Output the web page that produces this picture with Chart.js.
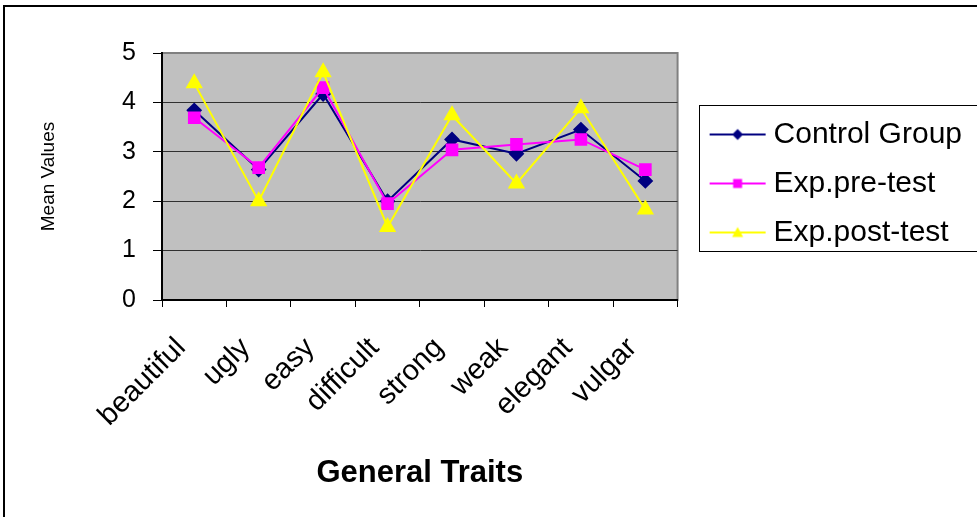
<!DOCTYPE html>
<html>
<head>
<meta charset="utf-8">
<script src="https://cdn.jsdelivr.net/npm/chart.js@4"></script>
<style>
  html, body { margin: 0; padding: 0; background: #fff; }
  #wrap { width: 977px; height: 517px; }
</style>
</head>
<body>
<div id="wrap"><canvas id="myChart" width="977" height="517"></canvas></div>
<script>
// data
const categories = ['beautiful', 'ugly', 'easy', 'difficult', 'strong', 'weak', 'elegant', 'vulgar'];
const controlGroup = [3.84, 2.64, 4.17, 2.00, 3.25, 2.96, 3.45, 2.41];
const expPreTest = [3.69, 2.68, 4.30, 1.95, 3.04, 3.15, 3.25, 2.64];
const expPostTest = [4.39, 2.00, 4.61, 1.48, 3.74, 2.36, 3.88, 1.83];
const seriesNames = ['Control Group', 'Exp.pre-test', 'Exp.post-test'];

const FONT = 'Arial, "Liberation Sans", sans-serif';

// little line + marker pictures for the legend
const makeIcon = (color, marker) => {
  const c = document.createElement('canvas');
  c.width = 80;
  c.height = 20;
  const ctx = c.getContext('2d');
  ctx.strokeStyle = color;
  ctx.fillStyle = color;
  ctx.lineWidth = 2;
  ctx.beginPath();
  ctx.moveTo(22, 10);
  ctx.lineTo(78, 10);
  ctx.stroke();
  ctx.beginPath();
  if (marker === 'diamond') {
    ctx.moveTo(50, 4.5); ctx.lineTo(55.5, 10); ctx.lineTo(50, 15.5); ctx.lineTo(44.5, 10);
  } else if (marker === 'square') {
    ctx.rect(45.5, 5.5, 9, 9);
  } else {
    ctx.moveTo(50, 4.5); ctx.lineTo(55.5, 14.5); ctx.lineTo(44.5, 14.5);
  }
  ctx.closePath();
  ctx.fill();
  return c;
};

const icons = [
  makeIcon('#000080', 'diamond'),
  makeIcon('#FF00FF', 'square'),
  makeIcon('#FFFF00', 'triangle')
];

const frame = {
  id: 'frame',
  beforeDraw(chart) {
    const { ctx, chartArea } = chart;
    ctx.save();
    ctx.fillStyle = '#C0C0C0';
    ctx.fillRect(chartArea.left, chartArea.top, chartArea.right - chartArea.left, chartArea.bottom - chartArea.top);
    ctx.strokeStyle = '#808080';
    ctx.lineWidth = 2;
    ctx.strokeRect(chartArea.left, chartArea.top, chartArea.right - chartArea.left, chartArea.bottom - chartArea.top);
    ctx.restore();
  },
  afterDraw(chart) {
    const { ctx, legend } = chart;
    ctx.save();
    // outer chart border
    ctx.strokeStyle = '#000';
    ctx.lineWidth = 2;
    ctx.strokeRect(4, 6, 1100, 700);
    // legend box
    if (legend && legend.legendHitBoxes && legend.legendHitBoxes.length) {
      const boxes = legend.legendHitBoxes;
      const first = boxes[0];
      const last = boxes[boxes.length - 1];
      const top = first.top + first.height / 2 - 30;
      const bottom = last.top + last.height / 2 + 18;
      ctx.strokeStyle = '#000';
      ctx.lineWidth = 1;
      ctx.strokeRect(Math.round(legend.left) + 21.5, Math.round(top) + 0.5, 400, Math.round(bottom - top));
    }
    ctx.restore();
  }
};

const chart = new Chart(document.getElementById('myChart'), {
  type: 'line',
  data: {
    labels: categories,
    datasets: [
      {
        label: seriesNames[0],
        data: controlGroup,
        borderColor: '#000080',
        backgroundColor: '#000080',
        borderWidth: 2,
        pointStyle: 'rectRot',
        pointRadius: 6.5,
        tension: 0,
        order: 2
      },
      {
        label: seriesNames[1],
        data: expPreTest,
        borderColor: '#FF00FF',
        backgroundColor: '#FF00FF',
        borderWidth: 2,
        pointStyle: 'rect',
        pointRadius: 7.5,
        tension: 0,
        order: 1
      },
      {
        label: seriesNames[2],
        data: expPostTest,
        borderColor: '#FFFF00',
        backgroundColor: '#FFFF00',
        borderWidth: 2,
        pointStyle: 'triangle',
        pointRadius: 8,
        tension: 0,
        order: 0
      }
    ]
  },
  plugins: [frame],
  options: {
    responsive: false,
    animation: false,
    layout: { padding: { left: 0, top: 53, right: 0, bottom: 0 } },
    plugins: {
      tooltip: { enabled: false },
      legend: {
        position: 'right',
        align: 'start',
        maxWidth: 320,
        title: {
          display: true,
          text: ' ',
          font: { family: FONT, size: 30 },
          padding: { top: 11.5, bottom: 0 }
        },
        labels: {
          usePointStyle: true,
          pointStyleWidth: 62,
          padding: 19,
          color: '#000',
          font: { family: FONT, size: 30 },
          sort: (a, b) => a.datasetIndex - b.datasetIndex,
          generateLabels: (chart) => chart.data.datasets.map((ds, i) => ({
            text: ds.label,
            pointStyle: icons[i],
            fillStyle: ds.borderColor,
            strokeStyle: ds.borderColor,
            lineWidth: 0,
            fontColor: '#000',
            hidden: false,
            datasetIndex: i
          }))
        }
      }
    },
    scales: {
      x: {
        offset: true,
        afterFit: (scale) => { scale.height = 217; },
        grid: {
          offset: true,
          drawOnChartArea: false,
          drawTicks: true,
          tickLength: 7,
          tickColor: '#000'
        },
        border: { display: true, color: '#000', width: 2 },
        ticks: {
          minRotation: 45,
          maxRotation: 45,
          autoSkip: false,
          padding: 24,
          labelOffset: -13,
          color: '#000',
          font: { family: FONT, size: 29 }
        },
        title: {
          display: true,
          text: 'General Traits',
          color: '#000',
          font: { family: FONT, size: 31, weight: 'bold' },
          padding: { top: 0, bottom: 25 }
        }
      },
      y: {
        min: 0,
        max: 5,
        afterFit: (scale) => { scale.width = 162; },
        grid: {
          color: (c) => (c.tick && c.tick.value === 5 ? '#808080' : '#303030'),
          lineWidth: 1,
          drawTicks: true,
          tickLength: 9,
          tickColor: '#000'
        },
        border: { display: true, color: '#000', width: 2 },
        ticks: {
          stepSize: 1,
          padding: 17,
          color: '#000',
          font: { family: FONT, size: 25 }
        },
        title: {
          display: true,
          text: 'Mean Values',
          color: '#000',
          font: { family: FONT, size: 19 },
          padding: { top: 37, bottom: 0 }
        }
      }
    }
  }
});

// leave room on the right so the legend starts where the plot ends (x = 678)
const spare = Math.round(977 - 678 - chart.legend.width);
if (spare > 0) {
  chart.options.layout.padding.right = spare;
  chart.update();
}
</script>
</body>
</html>
